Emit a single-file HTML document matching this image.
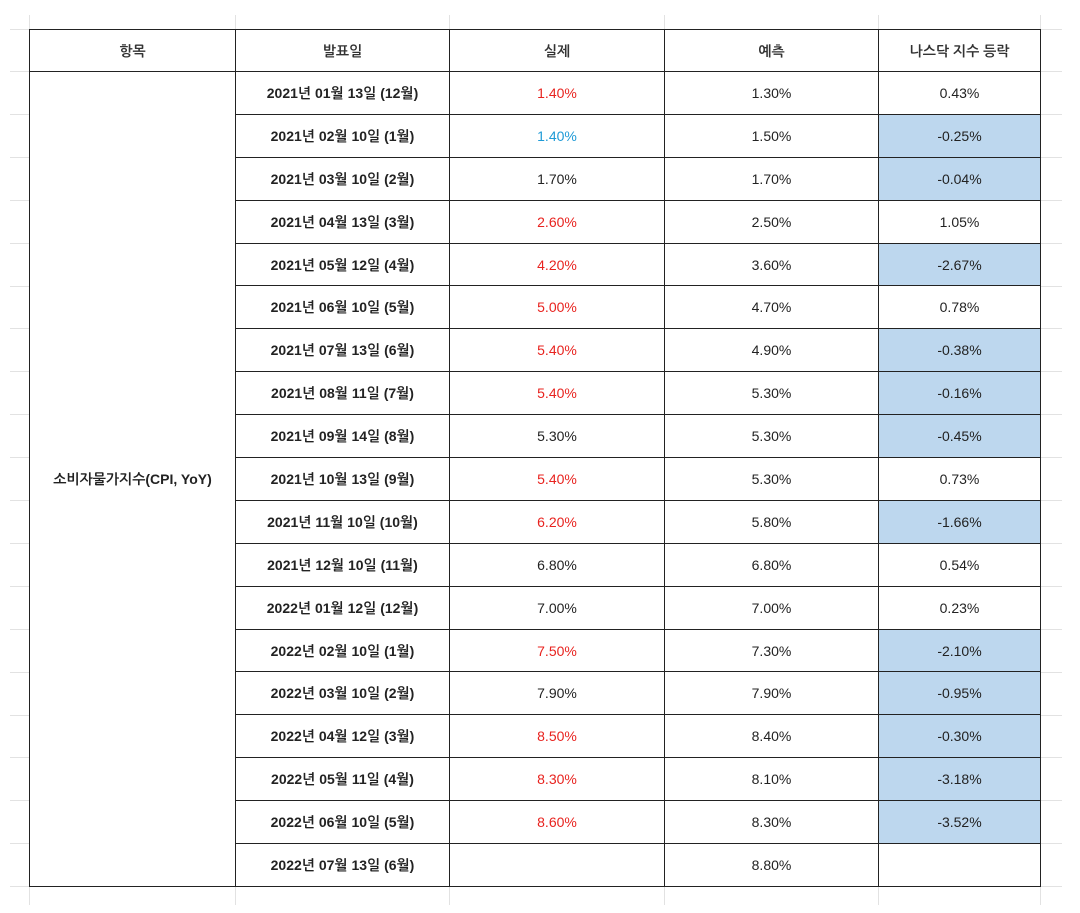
<!DOCTYPE html>
<html><head><meta charset="utf-8">
<style>
html,body{margin:0;padding:0;background:#fff;width:1080px;height:913px;overflow:hidden;position:relative}
.g{position:absolute;background:#e2e2e2}
table{position:absolute;left:29px;top:29px;width:1011px;border-collapse:collapse;table-layout:fixed;
font-family:"Liberation Sans","NanumGothic","Noto Sans CJK KR",sans-serif;font-size:14px;color:#222;background:#fff}
td,th{border:1.5px solid #222;text-align:center;padding:0;background:#fff}
th{font-weight:bold;height:41px;color:#333}
td{height:41.9px}
td.d,td.i{font-weight:bold}
.r{color:#e8231f}.b{color:#1e9ad6}
td.n{background:#bdd7ee}
</style></head><body>
<div class="g" style="left:10px;top:29px;width:1052px;height:1px"></div>
<div class="g" style="left:10px;top:886px;width:1052px;height:1px"></div>
<div id="grid"></div>
<script>
var g=document.getElementById('grid');
for(var i=0;i<20;i++){var d=document.createElement('div');d.className='g';d.style.cssText='left:10px;width:1052px;height:1px;top:'+(71+i*42.9)+'px';


g.appendChild(d);}
[29,235,449,664,878,1040].forEach(function(x){var d=document.createElement('div');d.className='g';d.style.cssText='top:15px;height:890px;width:1px;left:'+x+'px';


g.appendChild(d);});
</script>
<table>
<colgroup><col style="width:206px"><col style="width:214px"><col style="width:215px"><col style="width:214px"><col style="width:162px"></colgroup>
<tr><th>항목</th><th>발표일</th><th>실제</th><th>예측</th><th>나스닥 지수 등락</th></tr>
<tr><td rowspan="19" class="i">소비자물가지수(CPI, YoY)</td><td class="d">2021년 01월 13일 (12월)</td><td class="r">1.40%</td><td>1.30%</td><td>0.43%</td></tr>
<tr><td class="d">2021년 02월 10일 (1월)</td><td class="b">1.40%</td><td>1.50%</td><td class="n">-0.25%</td></tr>
<tr><td class="d">2021년 03월 10일 (2월)</td><td>1.70%</td><td>1.70%</td><td class="n">-0.04%</td></tr>
<tr><td class="d">2021년 04월 13일 (3월)</td><td class="r">2.60%</td><td>2.50%</td><td>1.05%</td></tr>
<tr><td class="d">2021년 05월 12일 (4월)</td><td class="r">4.20%</td><td>3.60%</td><td class="n">-2.67%</td></tr>
<tr><td class="d">2021년 06월 10일 (5월)</td><td class="r">5.00%</td><td>4.70%</td><td>0.78%</td></tr>
<tr><td class="d">2021년 07월 13일 (6월)</td><td class="r">5.40%</td><td>4.90%</td><td class="n">-0.38%</td></tr>
<tr><td class="d">2021년 08월 11일 (7월)</td><td class="r">5.40%</td><td>5.30%</td><td class="n">-0.16%</td></tr>
<tr><td class="d">2021년 09월 14일 (8월)</td><td>5.30%</td><td>5.30%</td><td class="n">-0.45%</td></tr>
<tr><td class="d">2021년 10월 13일 (9월)</td><td class="r">5.40%</td><td>5.30%</td><td>0.73%</td></tr>
<tr><td class="d">2021년 11월 10일 (10월)</td><td class="r">6.20%</td><td>5.80%</td><td class="n">-1.66%</td></tr>
<tr><td class="d">2021년 12월 10일 (11월)</td><td>6.80%</td><td>6.80%</td><td>0.54%</td></tr>
<tr><td class="d">2022년 01월 12일 (12월)</td><td>7.00%</td><td>7.00%</td><td>0.23%</td></tr>
<tr><td class="d">2022년 02월 10일 (1월)</td><td class="r">7.50%</td><td>7.30%</td><td class="n">-2.10%</td></tr>
<tr><td class="d">2022년 03월 10일 (2월)</td><td>7.90%</td><td>7.90%</td><td class="n">-0.95%</td></tr>
<tr><td class="d">2022년 04월 12일 (3월)</td><td class="r">8.50%</td><td>8.40%</td><td class="n">-0.30%</td></tr>
<tr><td class="d">2022년 05월 11일 (4월)</td><td class="r">8.30%</td><td>8.10%</td><td class="n">-3.18%</td></tr>
<tr><td class="d">2022년 06월 10일 (5월)</td><td class="r">8.60%</td><td>8.30%</td><td class="n">-3.52%</td></tr>
<tr><td class="d">2022년 07월 13일 (6월)</td><td></td><td>8.80%</td><td></td></tr>
</table>
</body></html>
